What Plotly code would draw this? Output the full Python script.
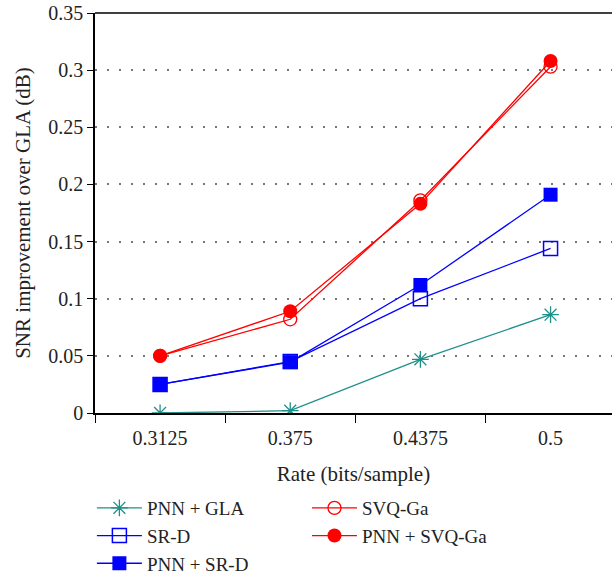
import plotly.graph_objects as go

rates = [0.3125, 0.375, 0.4375, 0.5]
rate_labels = ["0.3125", "0.375", "0.4375", "0.5"]
pnn_gla = [0.0, 0.002, 0.047, 0.086]
sr_d = [0.025, 0.045, 0.100, 0.144]
pnn_sr_d = [0.025, 0.0445, 0.112, 0.191]
svq_ga = [0.050, 0.082, 0.186, 0.303]
pnn_svq_ga = [0.050, 0.089, 0.183, 0.308]
y_ticks = [0, 0.05, 0.1, 0.15, 0.2, 0.25, 0.3, 0.35]
y_tick_labels = ["0", "0.05", "0.1", "0.15", "0.2", "0.25", "0.3", "0.35"]
x_minor = [0.28125, 0.34375, 0.40625, 0.46875]

TEAL = "#1f8f8a"
BLUE = "#0000ff"
RED = "#ff0000"
FONT = "Liberation Serif"
TXT = "#222222"

fig = go.Figure()
fig.add_trace(go.Scatter(x=rates, y=pnn_gla, name="PNN + GLA", mode="lines+markers",
                         line=dict(color=TEAL, width=1.3),
                         marker=dict(symbol="asterisk-open", size=14, color=TEAL, line=dict(color=TEAL, width=1.3)),
                         legend="legend"))
fig.add_trace(go.Scatter(x=rates, y=sr_d, name="SR-D", mode="lines+markers",
                         line=dict(color=BLUE, width=1.3),
                         marker=dict(symbol="square-open", size=14, color=BLUE, line=dict(color=BLUE, width=1.5)),
                         legend="legend"))
fig.add_trace(go.Scatter(x=rates, y=pnn_sr_d, name="PNN + SR-D", mode="lines+markers",
                         line=dict(color=BLUE, width=1.3),
                         marker=dict(symbol="square", size=14, color=BLUE),
                         legend="legend"))
fig.add_trace(go.Scatter(x=rates, y=svq_ga, name="SVQ-Ga", mode="lines+markers",
                         line=dict(color=RED, width=1.3),
                         marker=dict(symbol="circle-open", size=13, color=RED, line=dict(color=RED, width=1.3)),
                         legend="legend2"))
fig.add_trace(go.Scatter(x=rates, y=pnn_svq_ga, name="PNN + SVQ-Ga", mode="lines+markers",
                         line=dict(color=RED, width=1.3),
                         marker=dict(symbol="circle", size=14, color=RED),
                         legend="legend2"))

fig.update_layout(
    width=612, height=577,
    margin=dict(l=94.5, r=0, t=13, b=164, pad=0, autoexpand=False),
    paper_bgcolor="white", plot_bgcolor="white",
    font=dict(family=FONT, size=20, color=TXT),
    xaxis=dict(range=[0.28125, 0.5295], tickmode="array", tickvals=rates, ticktext=rate_labels,
               ticks="outside", ticklen=6, tickcolor="rgba(0,0,0,0)",
               showline=True, linecolor="black", linewidth=1.5, mirror=False,
               showgrid=False, zeroline=False, automargin=False,
               showspikes=False,
               minor=dict(tickvals=x_minor, ticks="outside", ticklen=8, tickcolor="black", tickwidth=1.2, showgrid=False),
               title=dict(text="Rate (bits/sample)", standoff=19, font=dict(family=FONT, size=21, color=TXT))),
    yaxis=dict(range=[0, 0.35], tickmode="array", tickvals=y_ticks, ticktext=y_tick_labels,
               ticks="outside", ticklen=6, tickcolor="black", tickwidth=1.2,
               showline=True, linecolor="black", linewidth=1.5, mirror=False,
               showgrid=True, gridcolor="#777777", griddash="1.5px,10.5px", gridwidth=1.5,
               zeroline=False, automargin=False, showspikes=False,
               title=dict(text="SNR improvement over GLA (dB)", standoff=12, font=dict(family=FONT, size=21, color=TXT))),
    legend=dict(x=-0.006, y=-0.19, xanchor="left", yanchor="top", bgcolor="rgba(0,0,0,0)",
                font=dict(family=FONT, size=19), tracegroupgap=0, itemwidth=45),
    legend2=dict(x=0.41, y=-0.19, xanchor="left", yanchor="top", bgcolor="rgba(0,0,0,0)",
                 font=dict(family=FONT, size=19), tracegroupgap=0, itemwidth=45),
    shapes=[dict(type="line", xref="paper", yref="paper", x0=0, x1=1, y0=1, y1=1,
                 line=dict(color="black", width=1.5))],
)

fig.write_html("out.html", config={"displayModeBar": False})
